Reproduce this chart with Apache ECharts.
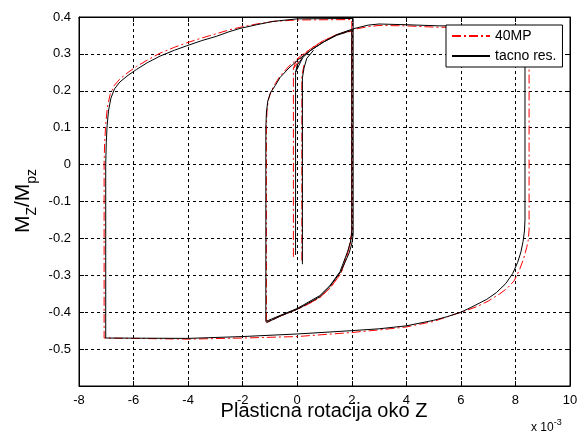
<html>
<head>
  <meta charset="utf-8">
  <title></title>
  <style>
    body { margin: 0; background: #fff; }
  </style>
</head>
<body>
  <div id="main" style="width: 584px;height:434px;"></div>
</body>
<script src="https://cdn.jsdelivr.net/npm/echarts@6/dist/echarts.min.js"></script>
<script>
  // x values are in units of 1e-3 (plastic rotation), y = Mz/Mpz
  let xTicks = [-8, -6, -4, -2, 0, 2, 4, 6, 8, 10];
  let yTicks = [-0.6, -0.5, -0.4, -0.3, -0.2, -0.1, 0, 0.1, 0.2, 0.3, 0.4];

  // 40MP (red dash-dot)
  let mpSmallA = [[-0.14, -0.25], [-0.14, 0.26], [-0.05, 0.28], [0.15, 0.295]];
  let mpSmallB = [[0.17, -0.26], [0.17, 0.24], [0.25, 0.27]];
  let mpMain = [
    [-0.14, 0.26], [0.2, 0.295], [0.5, 0.315], [0.96, 0.336], [1.44, 0.352], [2.0, 0.362],
    [2.0, -0.18], [1.95, -0.21], [1.85, -0.24], [1.6, -0.295], [1.2, -0.335], [0.83, -0.36], [0.4, -0.378], [0, -0.392], [-0.6, -0.41], [-1.13, -0.428],
    [-1.13, 0.1], [-1.11, 0.145], [-1.06, 0.175], [-0.95, 0.2], [-0.8, 0.22], [-0.63, 0.24], [-0.3, 0.267], [0.05, 0.29], [0.5, 0.314], [0.96, 0.335], [1.44, 0.352],
    [2.05, 0.366], [2.6, 0.374], [3.0, 0.377], [4.0, 0.376], [5.2, 0.372], [6.5, 0.373], [8.5, 0.375],
    [8.5, -0.176], [8.47, -0.205], [8.41, -0.225], [8.3, -0.255], [8.15, -0.285], [7.95, -0.315], [7.7, -0.335], [7.43, -0.35], [7.0, -0.37],
    [6.58, -0.385], [6.1, -0.398], [5.72, -0.407], [5.0, -0.425], [4.0, -0.44], [3.0, -0.448], [2.0, -0.455],
    [0, -0.466], [-2, -0.47], [-4, -0.473], [-7.08, -0.47],
    [-7.08, 0.0], [-7.06, 0.06], [-7.02, 0.11], [-6.96, 0.155], [-6.86, 0.19], [-6.7, 0.215], [-6.5, 0.232], [-6.2, 0.25], [-5.89, 0.266],
    [-5.5, 0.283], [-5.03, 0.302], [-4.5, 0.318], [-4.05, 0.33], [-3.5, 0.343], [-2.95, 0.355],
    [-2.5, 0.365], [-2.1, 0.372], [-1.49, 0.381], [-0.89, 0.388], [0, 0.392], [2.0, 0.393],
    [2.0, -0.18], [1.95, -0.21], [1.85, -0.24], [1.6, -0.295], [1.2, -0.335], [0.83, -0.36], [0.4, -0.378], [0, -0.392], [-0.6, -0.41], [-1.13, -0.428]
  ];

  // tacno res. (black solid)
  let tacnoSmallA = [[-0.06, -0.245], [-0.06, 0.25], [0.0, 0.27], [0.2, 0.29]];
  let tacnoSmallB = [[0.19, -0.27], [0.19, 0.235], [0.25, 0.262], [0.35, 0.288], [0.6, 0.31]];
  let tacnoMain = [
    [-0.06, 0.25], [0.2, 0.29], [0.5, 0.31], [0.96, 0.332], [1.44, 0.35], [2.0, 0.364],
    [2.0, -0.185], [1.95, -0.21], [1.85, -0.235], [1.57, -0.29], [1.2, -0.328], [0.83, -0.355], [0.4, -0.373], [0.0, -0.39], [-0.6, -0.408], [-1.15, -0.425],
    [-1.15, 0.1], [-1.13, 0.14], [-1.08, 0.172], [-0.98, 0.195], [-0.8, 0.215], [-0.63, 0.236], [-0.3, 0.262], [0.05, 0.285], [0.5, 0.31], [0.96, 0.332], [1.44, 0.352],
    [2.05, 0.368], [2.6, 0.378], [3.0, 0.381], [4.0, 0.379], [5.2, 0.376], [6.5, 0.376], [8.35, 0.377],
    [8.35, -0.15], [8.33, -0.18], [8.28, -0.208], [8.2, -0.237], [8.08, -0.265], [7.9, -0.295], [7.65, -0.322], [7.3, -0.347], [6.95, -0.365],
    [6.4, -0.386], [6.0, -0.4], [5.5, -0.412], [5.0, -0.422], [4.0, -0.437], [3.0, -0.445],
    [2.0, -0.45], [0.0, -0.459], [-2.0, -0.466], [-4.0, -0.471], [-7.02, -0.47],
    [-7.02, 0.0], [-7.0, 0.06], [-6.97, 0.105], [-6.92, 0.145], [-6.83, 0.18], [-6.7, 0.205], [-6.5, 0.224], [-6.2, 0.242], [-5.89, 0.258],
    [-5.5, 0.276], [-5.03, 0.294], [-4.5, 0.31], [-4.05, 0.322], [-3.5, 0.336], [-2.95, 0.348],
    [-2.5, 0.36], [-2.1, 0.369], [-1.49, 0.379], [-0.89, 0.388], [0.0, 0.395], [2.05, 0.396],
    [2.05, -0.19], [2.0, -0.215], [1.9, -0.24], [1.6, -0.29], [1.2, -0.33], [0.83, -0.358], [0.4, -0.376], [0, -0.392], [-0.6, -0.41], [-1.12, -0.428]
  ];

  let mpSegments = [mpSmallA, mpSmallB, mpMain];
  let tacnoSegments = [tacnoSmallA, tacnoSmallB, tacnoMain];

  let font = 'Liberation Sans, Arial, sans-serif';

  let series = [];
  mpSegments.forEach(seg => {
    series.push({
      name: '40MP', type: 'line', data: seg, symbol: 'none', animation: false,
      lineStyle: { color: '#ff0000', width: 1, type: [9, 3, 2, 3] }, itemStyle: { color: '#ff0000' }
    });
  });
  tacnoSegments.forEach(seg => {
    series.push({
      name: 'tacno res.', type: 'line', data: seg, symbol: 'none', animation: false,
      lineStyle: { color: '#000', width: 1 }, itemStyle: { color: '#000' }
    });
  });

  let myChart = echarts.init(document.getElementById('main'));

  let fmtY = function (v) {
    let r = Math.round(v * 10) / 10;
    if (r <= -0.6) return '';
    return r === 0 ? '0' : String(r);
  };

  option = {
    backgroundColor: '#fff',
    animation: false,
    grid: { left: 79, right: 14, top: 17, bottom: 48, show: true, borderColor: '#000', borderWidth: 1 },
    legend: {
      data: ['40MP', 'tacno res.'],
      orient: 'vertical',
      left: 446, top: 25,
      itemWidth: 38, itemHeight: 14, itemGap: 6,
      padding: [4, 6, 4, 5],
      itemStyle: { opacity: 0 },
      backgroundColor: '#fff', borderColor: '#000', borderWidth: 1,
      textStyle: { fontSize: 14, color: '#000', fontFamily: font }
    },
    xAxis: [{
      type: 'value', min: xTicks[0], max: xTicks[xTicks.length - 1], interval: 2,
      axisLine: { show: true, onZero: false, lineStyle: { color: '#000' } },
      axisTick: { show: true, inside: true, length: 5, lineStyle: { color: '#000' } },
      axisLabel: { color: '#000', fontSize: 13, fontFamily: font, margin: 8 },
      splitLine: { show: true, lineStyle: { color: '#000', type: [3, 3], width: 1 } }
    }, {
      type: 'value', position: 'top', min: xTicks[0], max: xTicks[xTicks.length - 1], interval: 2,
      axisLine: { show: true, onZero: false, lineStyle: { color: '#000' } },
      axisTick: { show: true, inside: true, length: 5, lineStyle: { color: '#000' } },
      axisLabel: { show: false }, splitLine: { show: false }
    }],
    yAxis: [{
      type: 'value', min: yTicks[0], max: yTicks[yTicks.length - 1], interval: 0.1,
      axisLine: { show: true, onZero: false, lineStyle: { color: '#000' } },
      axisTick: { show: true, inside: true, length: 5, lineStyle: { color: '#000' } },
      axisLabel: { color: '#000', fontSize: 13, fontFamily: font, margin: 8, formatter: fmtY },
      splitLine: { show: true, lineStyle: { color: '#000', type: [3, 3], width: 1 } }
    }, {
      type: 'value', position: 'right', min: yTicks[0], max: yTicks[yTicks.length - 1], interval: 0.1,
      axisLine: { show: true, onZero: false, lineStyle: { color: '#000' } },
      axisTick: { show: true, inside: true, length: 5, lineStyle: { color: '#000' } },
      axisLabel: { show: false }, splitLine: { show: false }
    }],
    graphic: [{
      type: 'text', x: 324, y: 411,
      style: { text: 'Plasticna rotacija oko Z', fontSize: 20, fontFamily: font, fill: '#000', align: 'center', verticalAlign: 'middle' }
    }, {
      type: 'text', x: 26, y: 201, rotation: Math.PI / 2,
      style: {
        text: '{m|M}{s|Z}{m|/M}{s|pz}', fill: '#000', align: 'center', verticalAlign: 'middle',
        rich: {
          m: { fontSize: 21, fontFamily: font, fill: '#000', padding: [0, 0, 5, 0], verticalAlign: 'bottom' },
          s: { fontSize: 14, fontFamily: font, fill: '#000', verticalAlign: 'bottom' }
        }
      }
    }, {
      type: 'text', x: 531, y: 426,
      style: {
        text: '{a|x 10}{b|-3}', fill: '#000', align: 'left', verticalAlign: 'middle',
        rich: {
          a: { fontSize: 12, fontFamily: font, fill: '#000', verticalAlign: 'bottom' },
          b: { fontSize: 9, fontFamily: font, fill: '#000', verticalAlign: 'bottom', padding: [0, 0, 7, 0] }
        }
      }
    }],
    series: series
  };

  myChart.setOption(option);
</script>
</html>
